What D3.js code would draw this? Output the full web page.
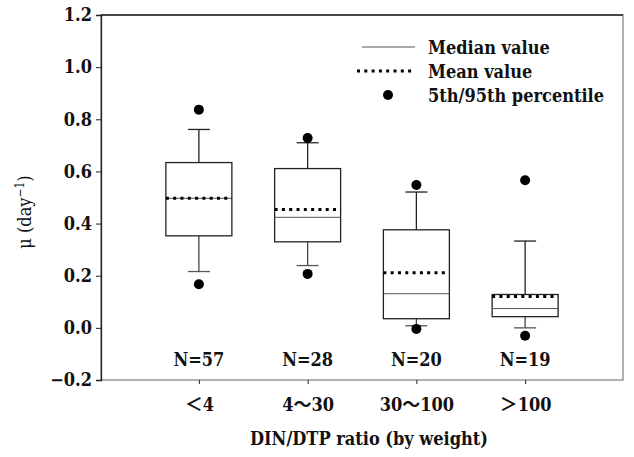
<!DOCTYPE html>
<html>
<head>
<meta charset="utf-8">
<script src="https://cdn.jsdelivr.net/npm/d3@7"></script>
<style>
  body { margin: 0; background: #fff; }
  text { font-family: "DejaVu Serif Condensed", "DejaVu Serif", "Noto Sans CJK SC", serif; font-stretch: condensed; }
</style>
</head>
<body>
<div id="chart"></div>
<script>
// values
const categories = ["＜4", "4～30", "30～100", "＞100"];
const counts = [57, 28, 20, 19];
const p5 = [0.167, 0.207, -0.004, -0.03];
const whiskerLow = [0.216, 0.239, 0.008, 0.0];
const q1 = [0.353, 0.330, 0.035, 0.043];
const median = [0.497, 0.424, 0.131, 0.074];
const mean = [0.497, 0.454, 0.211, 0.120];
const q3 = [0.634, 0.611, 0.376, 0.128];
const whiskerHigh = [0.761, 0.710, 0.521, 0.333];
const p95 = [0.837, 0.728, 0.548, 0.566];
const yTicks = [-0.2, 0, 0.2, 0.4, 0.6, 0.8, 1.0, 1.2];

const W = 634, H = 457;
const margin = {top: 15, right: 11, bottom: 77, left: 101};
const width = W - margin.left - margin.right,
      height = H - margin.top - margin.bottom;

const svg = d3.select("#chart").append("svg")
    .attr("width", W).attr("height", H)
  .append("g")
    .attr("transform", `translate(${margin.left},${margin.top})`);

const x = d3.scaleLinear().domain([0.1, 4.9]).range([0, width]);
const y = d3.scaleLinear().domain([-0.2, 1.2]).range([height, 0]);

const fs = "18px";

// frame
svg.append("rect")
  .attr("width", width).attr("height", height)
  .attr("fill", "none").attr("stroke", "#888").attr("stroke-width", 1.3);
svg.append("line").attr("x1", 0).attr("x2", width).attr("y1", 0).attr("y2", 0)
  .attr("stroke", "#222").attr("stroke-width", 1.3);

// y axis
const yAxis = svg.append("g")
  .call(d3.axisLeft(y).tickValues(yTicks).tickFormat(d3.format(".1f")).tickSize(5).tickPadding(4));
yAxis.attr("font-family", null);
yAxis.select(".domain").attr("stroke", "#222").attr("stroke-width", 1.3);
yAxis.selectAll(".tick line").attr("stroke", "#222");
yAxis.selectAll("text").attr("font-size", fs).attr("font-weight", "bold").attr("fill", "#111");

// x axis
const xAxis = svg.append("g")
  .attr("transform", `translate(0,${height})`)
  .call(d3.axisBottom(x).tickValues([1, 2, 3, 4])
    .tickFormat(i => categories[i - 1]).tickSize(4).tickPadding(14));
xAxis.attr("font-family", null);
xAxis.select(".domain").remove();
xAxis.selectAll(".tick line").attr("stroke", "#222");
xAxis.selectAll("text").attr("font-size", fs).attr("font-weight", "bold").attr("fill", "#111");

const idx = d3.range(categories.length);
const boxW = 66, capW = 22;

const boxes = svg.append("g").selectAll("g")
  .data(idx).join("g")
  .attr("transform", i => `translate(${x(i + 1)},0)`);

// whiskers
boxes.append("line")
  .attr("y1", i => y(q3[i])).attr("y2", i => y(whiskerHigh[i]))
  .attr("stroke", "#222").attr("stroke-width", 1.3);
boxes.append("line")
  .attr("y1", i => y(q1[i])).attr("y2", i => y(whiskerLow[i]))
  .attr("stroke", "#444").attr("stroke-width", 1.3);
boxes.append("line")
  .attr("x1", -capW / 2).attr("x2", capW / 2)
  .attr("y1", i => y(whiskerHigh[i])).attr("y2", i => y(whiskerHigh[i]))
  .attr("stroke", "#222").attr("stroke-width", 1.3);
boxes.append("line")
  .attr("x1", -capW / 2).attr("x2", capW / 2)
  .attr("y1", i => y(whiskerLow[i])).attr("y2", i => y(whiskerLow[i]))
  .attr("stroke", "#555").attr("stroke-width", 1.3);

// box
boxes.append("rect")
  .attr("x", -boxW / 2).attr("width", boxW)
  .attr("y", i => y(q3[i])).attr("height", i => y(q1[i]) - y(q3[i]))
  .attr("fill", "none").attr("stroke", "#222").attr("stroke-width", 1.3);

// median
boxes.append("line")
  .attr("x1", -boxW / 2).attr("x2", boxW / 2)
  .attr("y1", i => y(median[i])).attr("y2", i => y(median[i]))
  .attr("stroke", "#555").attr("stroke-width", 1);

// mean
boxes.append("line")
  .attr("x1", -boxW / 2).attr("x2", boxW / 2)
  .attr("y1", i => y(mean[i])).attr("y2", i => y(mean[i]))
  .attr("stroke", "#000").attr("stroke-width", 3)
  .attr("stroke-dasharray", "3,4.3");

// 5th / 95th percentile
boxes.append("circle").attr("r", 5).attr("cy", i => y(p95[i])).attr("fill", "#000");
boxes.append("circle").attr("r", 5).attr("cy", i => y(p5[i])).attr("fill", "#000");

// N labels
boxes.append("text")
  .attr("y", 351).attr("text-anchor", "middle")
  .attr("font-size", fs).attr("font-weight", "bold").attr("fill", "#111")
  .text(i => `N=${counts[i]}`);

// legend
const lg = svg.append("g");
lg.append("line").attr("x1", 261).attr("x2", 314).attr("y1", 32).attr("y2", 32)
  .attr("stroke", "#555").attr("stroke-width", 1);
lg.append("line").attr("x1", 256).attr("x2", 314).attr("y1", 56).attr("y2", 56)
  .attr("stroke", "#000").attr("stroke-width", 3).attr("stroke-dasharray", "3,4.3");
lg.append("circle").attr("cx", 287).attr("cy", 80).attr("r", 5).attr("fill", "#000");
const legendText = ["Median value", "Mean value", "5th/95th percentile"];
lg.selectAll("text.lg").data(legendText).join("text")
  .attr("x", 327).attr("y", (d, i) => 39 + i * 24)
  .attr("font-size", fs).attr("font-weight", "bold").attr("fill", "#111")
  .text(d => d);

// axis titles
svg.append("text")
  .attr("x", width / 2 + 7).attr("y", height + 65)
  .attr("text-anchor", "middle")
  .attr("font-size", fs).attr("font-weight", "bold").attr("fill", "#111")
  .text("DIN/DTP ratio (by weight)");

const yl = svg.append("text")
  .attr("transform", "rotate(-90)")
  .attr("x", -197).attr("y", -70)
  .attr("text-anchor", "middle")
  .attr("font-size", "18px").attr("fill", "#111");
yl.append("tspan").text("μ (day");
yl.append("tspan").attr("baseline-shift", "super").attr("font-size", "12px").text("−1");
yl.append("tspan").text(")");
</script>
</body>
</html>
